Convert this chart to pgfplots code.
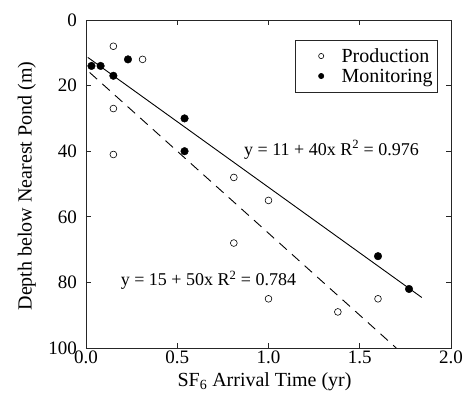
\documentclass[border=0pt]{standalone}
\usepackage{pgfplots}
\pgfplotsset{compat=1.18}
\usetikzlibrary{calc}
\usepackage{fontspec}
\setmainfont{Liberation Serif}
\newfontfamily\tnr{Liberation Serif}
\newcommand{\tl}[1]{\hbox{\tnr\fontsize{19}{22}\selectfont #1}}

\begin{document}
\fontsize{20}{24}\selectfont
\begin{tikzpicture}
  \begin{axis}[
      scale only axis,
      width=365pt, height=328pt,
      xmin=0, xmax=2, ymin=0, ymax=100,
      y dir=reverse,
      xtick={0,0.5,1,1.5,2},
      xticklabels={\tl{0.0},\tl{0.5},\tl{1.0},\tl{1.5},\tl{2.0}},
      ytick={0,20,40,60,80,100},
      yticklabels={\tl{0},\tl{20},\tl{40},\tl{60},\tl{80},\tl{100}},
      xticklabel style={anchor=base, inner sep=0pt, yshift=-15pt},
      yticklabel style={anchor=east, inner sep=0pt, xshift=-9pt},
      tick align=inside,
      major tick length=5pt,
      axis line style={line width=0.8pt, black!85},
      tick style={line width=0.8pt, black!85},
      legend style={at={(0.9644,0.94)}, anchor=north east, draw=black!85,
        line width=0.7pt, inner xsep=5pt, inner ysep=6pt, row sep=0pt,
        column sep=0pt,
        nodes={inner sep=0pt, text height=16pt, text depth=4pt},
        font=\fontsize{20}{22}\selectfont},
      legend image code/.code={%
        \path (0pt,0pt) (40pt,0pt);
        \draw[#1, mark size=2.6pt] plot coordinates {(20pt,0pt)};},
      legend cell align=left,
      clip=false,
    ]
    % production wells (open)
    \addplot[only marks, mark=o, mark size=3.4pt, mark options={line width=0.6pt, fill=white}]
      coordinates {
        (0.15,8) (0.31,12) (0.15,27) (0.15,41) (0.81,48) (1.0,55)
        (0.81,68) (1.0,85) (1.60,85) (1.38,89)
      };
    \addlegendentry{Production}
    % monitoring wells (filled)
    \addplot[only marks, mark=*, mark size=3.8pt, black]
      coordinates {
        (0.03,14) (0.08,14) (0.23,12) (0.15,17) (0.54,30) (0.54,40)
        (1.60,72) (1.77,82)
      };
    \addlegendentry{Monitoring}
    % fit lines
    \addplot[black, line width=0.9pt, forget plot] coordinates {(0.01,11.4) (1.84,84.6)};
    \addplot[black, line width=0.9pt, dash pattern=on 10pt off 7pt, forget plot]
      coordinates {(0.02,16) (1.70,100)};
    \node[font=\fontsize{18}{20}\selectfont] at (axis cs:1.345,39.6) {y = 11 + 40x R\textsuperscript{2} = 0.976};
    \node[font=\fontsize{18}{20}\selectfont] at (axis cs:0.671,79.3) {y = 15 + 50x R\textsuperscript{2} = 0.784};
  \end{axis}
  % axis labels
  \node[anchor=base] at ($(current axis.south)+(-4pt,-38pt)$) {SF\textsubscript{6} Arrival Time (yr)};
  \node[rotate=90, anchor=south, inner sep=0pt] at ($(current axis.west)+(-50pt,-2pt)$)
    {Depth below Nearest Pond (m)};
  % page size as in the reference
  \path ($(current axis.south west)+(-86pt,-60pt)$) ($(current axis.north east)+(13pt,20pt)$);
\end{tikzpicture}
\end{document}
